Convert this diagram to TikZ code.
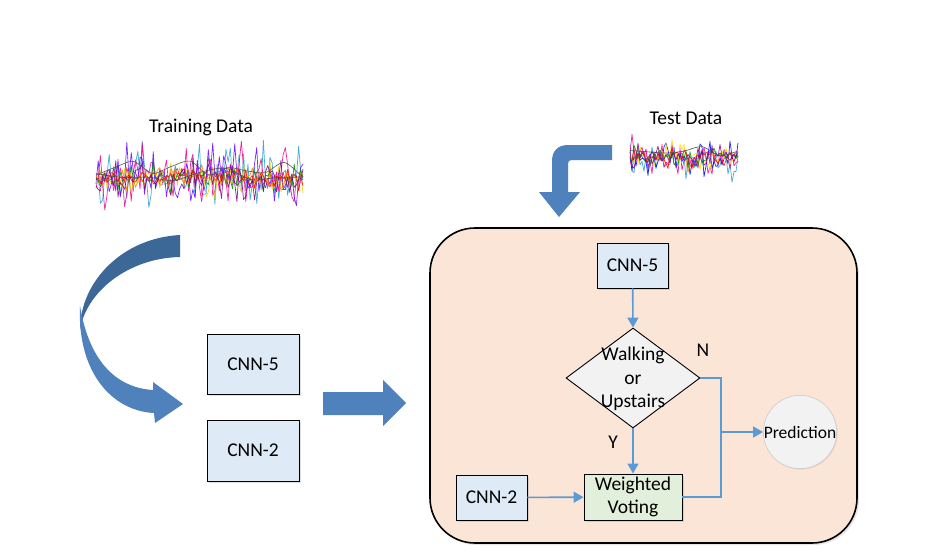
\documentclass[tikz,border=0pt]{standalone}
\usepackage{fontspec}
\setmainfont{Carlito}
\usetikzlibrary{shapes.geometric,arrows.meta,shadows}
\definecolor{arrowblue}{RGB}{79,129,189}
\definecolor{arrowdark}{RGB}{60,104,152}
\definecolor{linkblue}{RGB}{91,155,213}
\definecolor{boxblue}{RGB}{222,234,246}
\definecolor{peach}{RGB}{251,229,214}
\definecolor{lightgrey}{RGB}{242,242,242}
\definecolor{lightgreen}{RGB}{226,239,218}
\tikzset{
  txt/.style={font=\fontsize{19.5}{23.5}\selectfont, text=black},
  bluebox/.style={txt, draw=black, line width=0.9pt, fill=boxblue, inner sep=0pt,
    drop shadow={shadow xshift=1.5pt, shadow yshift=-1.5pt, opacity=0.25}},
  link/.style={draw=linkblue, line width=1.6pt, -{Triangle[width=11pt,length=10pt]}},
  plain link/.style={draw=linkblue, line width=1.6pt},
  sig/.style={line width=0.7pt, opacity=0.85, line join=round}
}
\begin{document}
\begin{tikzpicture}[x=1pt,y=-1pt]
\useasboundingbox (0,0) rectangle (933,559);
\fill[white] (0,0) rectangle (933,559);

% ---------- Training data signal ----------
\node[txt] (trainlbl) at (201,127) {Training Data};
\pgfmathsetseed{11}
\foreach \c/\a in {cyan!80!black/40, magenta/40, blue!60!magenta/40, yellow!70!olive/20, green!55!black/16, red/12, orange/14, violet/26}{
  \draw[sig, \c] plot[domain=96:303, samples=95] (\x, {max(138,min(215,178 + \a*rand*abs(rand) + 5*rand))});
}
\draw[gray!70!black, line width=0.6pt] plot[smooth, domain=96:303, samples=12] (\x, {170 + 12*rand});
\draw[black!70, line width=0.6pt] plot[smooth, domain=96:303, samples=9] (\x, {176 + 9*rand});

% ---------- Test data signal ----------
\node[txt] (testlbl) at (686,118) {Test Data};
\pgfmathsetseed{5}
\foreach \c/\a in {cyan!80!black/30, magenta/28, blue/24, yellow!80!orange/20, green!55!black/14, red/12, violet/18}{
  \draw[sig, \c] plot[domain=630:738, samples=55] (\x, {max(130,min(188,157 + \a*rand*abs(rand) + 4*rand))});
}
\draw[gray!60!black, line width=0.6pt] plot[smooth, domain=630:738, samples=7] (\x, {148 + 10*rand});

% ---------- curved arrow (left) ----------
\fill[arrowdark] (180,235) .. controls (122,238) and (80,282) .. (80,330)
   .. controls (86,292) and (128,258) .. (180,257) -- cycle;
\fill[arrowblue] (80,306) .. controls (77,372) and (112,411) .. (154,413)
   -- (155,423) -- (183,404) -- (153,382) -- (153,390)
   .. controls (120,388) and (90,366) .. (80,306) -- cycle;

% ---------- left boxes ----------
\node[bluebox, minimum width=92pt, minimum height=60pt] (lcnn5) at (253,364) {CNN-5};
\node[bluebox, minimum width=92pt, minimum height=61pt] (lcnn2) at (253,450.5) {CNN-2};

% ---------- block arrow ----------
\fill[arrowblue] (323,392) -- (383,392) -- (383,380) -- (406,403) -- (383,426) -- (383,415) -- (323,415) -- cycle;

% ---------- bent arrow (test data) ----------
\fill[arrowblue] (612,145) -- (568,145) .. controls (558,145) and (552,151) .. (552,161)
  -- (552,192) -- (539,192) -- (559,217) -- (580,192) -- (568,192) -- (568,164)
  .. controls (568,161) and (569,160) .. (572,160) -- (612,160) -- cycle;

% ---------- container ----------
\node[draw=black, line width=1.6pt, fill=peach, rounded corners=45pt,
      minimum width=427pt, minimum height=315pt,
      drop shadow={shadow xshift=2pt, shadow yshift=-2pt, opacity=0.2}] (cont) at (643.5,385.5) {};

\node[bluebox, minimum width=71pt, minimum height=45pt] (cnn5) at (632.5,265.5) {CNN-5};
\node[draw=black, line width=0.9pt, fill=lightgrey, shape=diamond, inner sep=0pt,
      minimum width=134pt, minimum height=100pt, shape aspect=1.34] (dec) at (633,378) {};
\node[txt, align=center] (dectxt) at (633,379) {Walking\\or\\Upstairs};
\node[bluebox, fill=lightgreen, align=center, minimum width=98pt, minimum height=46pt] (wv) at (633,497) {Weighted\\Voting};
\node[bluebox, minimum width=71pt, minimum height=45pt] (cnn2) at (491.5,497.5) {CNN-2};
\node[txt, font=\fontsize{17.5}{21}\selectfont, shape=circle, draw=black!20, line width=0.6pt, fill=lightgrey, minimum size=72pt, inner sep=0pt,
      drop shadow={shadow xshift=1pt, shadow yshift=-1pt, opacity=0.15}] (pred) at (800,432) {Prediction};

\coordinate (jr) at (721,378);
\coordinate (jb) at (721,497);
\coordinate (jm) at (721,432);

\draw[link] (cnn5) -- (dec.north);
\draw[link] (dec.south) -- (wv);
\draw[link] (cnn2) -- (wv);
\draw[plain link] (dec.east) -- (jr) -- (jb) -- (wv.east);
\draw[link] (jm) -- (pred);

\node[txt] (nlbl) at (703,350) {N};
\node[txt] (ylbl) at (613,442) {Y};
\end{tikzpicture}
\end{document}
